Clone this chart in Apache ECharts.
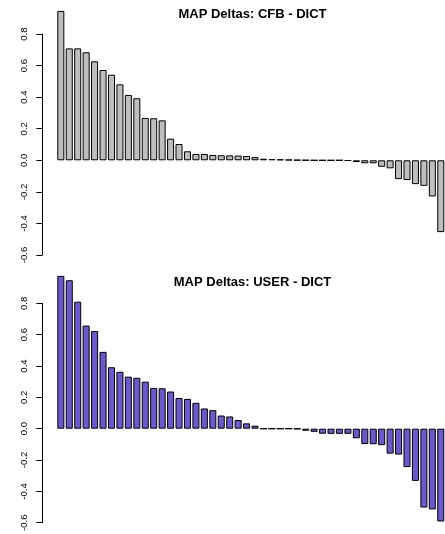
<!DOCTYPE html>
<html>
<head>
<meta charset="utf-8">
<script src="https://cdn.jsdelivr.net/npm/echarts@6/dist/echarts.min.js"></script>
<style>
html,body{margin:0;padding:0;background:#fff;}
#chart{width:445px;height:534px;}
</style>
</head>
<body>
<div id="chart"></div>
<script>
const categories = Array.from({length: 46}, (_, i) => 'Q' + (i + 1));
const titles = ['MAP Deltas: CFB - DICT', 'MAP Deltas: USER - DICT'];
const cfbDeltas = [0.946, 0.709, 0.709, 0.684, 0.627, 0.572, 0.542, 0.481, 0.414, 0.393,
  0.268, 0.266, 0.253, 0.137, 0.103, 0.057, 0.040, 0.040, 0.034, 0.032,
  0.031, 0.030, 0.027, 0.020, 0.010, 0.008, 0.006, 0.004, 0.002, 0.001,
  0, 0, 0, 0, -0.003, -0.011, -0.019, -0.019, -0.041, -0.051,
  -0.119, -0.125, -0.151, -0.162, -0.229, -0.455];
const userDeltas = [0.975, 0.947, 0.810, 0.658, 0.623, 0.490, 0.392, 0.363, 0.332, 0.325,
  0.300, 0.260, 0.258, 0.237, 0.196, 0.190, 0.165, 0.129, 0.118, 0.084,
  0.078, 0.055, 0.034, 0.019, 0, 0, 0, 0, -0.002, -0.013,
  -0.020, -0.032, -0.033, -0.033, -0.033, -0.061, -0.098, -0.099, -0.105, -0.159,
  -0.165, -0.245, -0.333, -0.503, -0.515, -0.592];
const yTicks = [-0.6, -0.4, -0.2, 0.0, 0.2, 0.4, 0.6, 0.8];

const FONT = '"Liberation Sans", Arial, Helvetica, sans-serif';
const chart = echarts.init(document.getElementById('chart'), null, {renderer: 'canvas'});

function yAxisDef(gi) {
  return {
    type: 'value', gridIndex: gi,
    min: yTicks[0], max: yTicks[yTicks.length - 1], interval: 0.2,
    offset: 14.3,
    axisLine: {show: true, lineStyle: {color: '#000', width: 1}},
    axisTick: {show: true, length: 6, lineStyle: {color: '#000', width: 1}},
    axisLabel: {rotate: 90, margin: 13, fontSize: 9.6, color: '#000', fontFamily: FONT,
      formatter: v => (Math.abs(v) < 1e-9 ? 0 : v).toFixed(1)},
    splitLine: {show: false}
  };
}
function xAxisDef(gi) {
  return {type: 'category', gridIndex: gi, data: categories, show: false,
    axisLine: {show: false}, axisTick: {show: false}, axisLabel: {show: false}};
}

chart.setOption({
  animation: false,
  backgroundColor: '#fff',
  grid: [
    {left: 56.6, top: 34, width: 392.4, height: 221, containLabel: false},
    {left: 56.6, top: 303.3, width: 392.4, height: 220.7, containLabel: false}
  ],
  xAxis: [xAxisDef(0), xAxisDef(1)],
  yAxis: [yAxisDef(0), yAxisDef(1)],
  series: [
    {type: 'bar', xAxisIndex: 0, yAxisIndex: 0, data: cfbDeltas, clip: false,
      barCategoryGap: '16.67%',
      itemStyle: {color: '#bebebe', borderColor: '#000', borderWidth: 1}},
    {type: 'bar', xAxisIndex: 1, yAxisIndex: 1, data: userDeltas, clip: false,
      barCategoryGap: '16.67%',
      itemStyle: {color: '#6a5acd', borderColor: '#000', borderWidth: 1}}
  ],
  graphic: [
    {type: 'text', x: 252.5, y: 14.5, style: {text: titles[0], textAlign: 'center', textVerticalAlign: 'middle',
      font: 'bold 13px ' + FONT, fill: '#000'}},
    {type: 'text', x: 252.5, y: 282, style: {text: titles[1], textAlign: 'center', textVerticalAlign: 'middle',
      font: 'bold 13px ' + FONT, fill: '#000'}}
  ]
});
</script>
</body>
</html>
